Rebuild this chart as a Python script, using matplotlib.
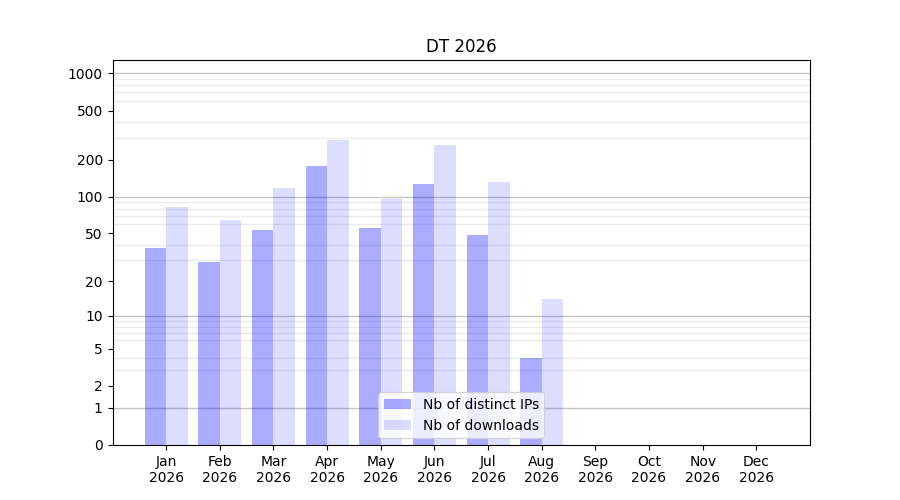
import numpy as np
import matplotlib
matplotlib.use("Agg")
import matplotlib.pyplot as plt

months = ['Jan', 'Feb', 'Mar', 'Apr', 'May', 'Jun', 'Jul', 'Aug', 'Sep', 'Oct', 'Nov', 'Dec']
year = '2026'
distinct_ips = [38, 29, 53, 178, 55, 127, 49, 4]
downloads = [82, 64, 118, 289, 96, 263, 131, 14]
ytick_vals = [0, 1, 2, 5, 10, 20, 50, 100, 200, 500, 1000]


def fwd(v):
    return np.log10(np.asarray(v, dtype=float) + 1)


def inv(v):
    return 10 ** np.asarray(v, dtype=float) - 1


fig, ax = plt.subplots(figsize=(9, 5), dpi=100)
ax.set_yscale('function', functions=(fwd, inv))

x = np.arange(len(months))
n = len(distinct_ips)
ax.bar(x[:n] - 0.2, distinct_ips, width=0.4, color='blue', alpha=0.33,
       linewidth=0, label='Nb of distinct IPs', zorder=2)
ax.bar(x[:n] + 0.2, downloads, width=0.4, color='blue', alpha=0.135,
       linewidth=0, label='Nb of downloads', zorder=2)

# light grid at every 2..9 step of each decade, darker at the decades
minor = [k * 10 ** d for d in range(0, 3) for k in range(2, 10)]
ax.set_yticks(minor, minor=True)
ax.tick_params(axis='y', which='minor', length=0)
ax.grid(True, which='minor', axis='y', color='#ebebeb', linewidth=1, zorder=0)
for v in [1, 10, 100, 1000]:
    ax.axhline(v, color='#c4c4c4', linewidth=1, zorder=1)

ax.set_yticks(ytick_vals)
ax.set_yticklabels([str(v) for v in ytick_vals])
ax.set_ylim(0, 1280)

ax.set_xticks(x)
ax.set_xticklabels([m + '\n' + year for m in months])
ax.set_xlim(-1, 12)

ax.set_title('DT 2026')
ax.legend(loc='lower center')

fig.savefig('out.png')
